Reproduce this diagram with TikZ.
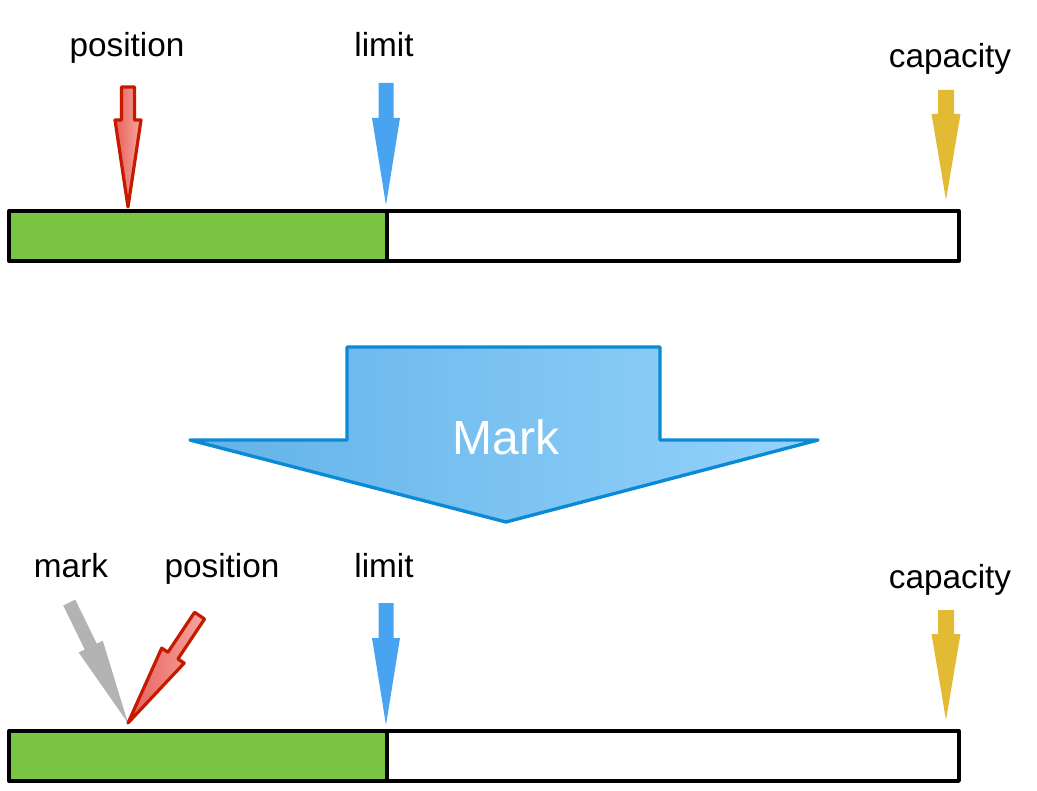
\documentclass[tikz,border=0pt]{standalone}
\usepackage{fontspec}
\setmainfont{Liberation Sans}
\definecolor{barGreen}{HTML}{7AC443}
\definecolor{ptrRedDark}{HTML}{C41A00}
\definecolor{ptrRedA}{HTML}{E8605A}
\definecolor{ptrRedB}{HTML}{F6A6A0}
\definecolor{ptrBlue}{HTML}{48A4F0}
\definecolor{ptrYellow}{HTML}{E3BA33}
\definecolor{ptrGray}{HTML}{B3B3B3}
\definecolor{markEdge}{HTML}{0A8AD6}
\definecolor{markA}{HTML}{62B2E8}
\definecolor{markB}{HTML}{95D3FB}
\newcommand\mkptr[4]{(0,0) -- (-#3,-#4) -- (-#2,-#4) -- (-#2,-#1) -- (#2,-#1) -- (#2,-#4) -- (#3,-#4) -- cycle}
\tikzset{
  lbl/.style={anchor=base, font=\fontsize{25}{29}\selectfont, text=black, inner sep=0pt},
  barframe/.style={draw=black, line width=2.5pt, line join=round},
  redptr/.style={draw=ptrRedDark, line width=2.4pt, line join=round, left color=ptrRedA, right color=ptrRedB},
  blueptr/.style={fill=ptrBlue, line join=round},
  yellowptr/.style={fill=ptrYellow, line join=round},
  grayptr/.style={fill=ptrGray, line join=round},
  bigarrow/.style={draw=markEdge, line width=2.5pt, line join=round, left color=markA, right color=markB},
}
\begin{document}
\begin{tikzpicture}[x=0.75pt,y=-0.75pt]
\useasboundingbox (0,0) rectangle (1037,791);

% ---------- top state ----------
\fill[barGreen] (9,211) rectangle (387,261);
\draw[barframe] (9,211) rectangle (959,261);
\draw[barframe] (387,211) -- (387,261);

\draw[redptr, shift={(128,207)}] \mkptr{120}{6.5}{13}{87};
\fill[blueptr, shift={(386,205)}] \mkptr{122}{7.5}{14}{87};
\fill[yellowptr, shift={(946,200)}] \mkptr{110}{8}{14.5}{86};

\node[lbl] (pos1) at (127,57) {position};
\node[lbl] (lim1) at (384,57) {limit};
\node[lbl] (cap1) at (950,68) {capacity};

% ---------- Mark arrow ----------
\draw[bigarrow] (347,347) -- (660,347) -- (660,440) -- (818,440) -- (506,522) -- (190,440) -- (347,440) -- cycle;
\node[font=\fontsize{36}{40}\selectfont, text=white, inner sep=0pt] (mark) at (506,437) {Mark};

% ---------- bottom state ----------
\fill[barGreen] (9,731) rectangle (387,781);
\draw[barframe] (9,731) rectangle (959,781);
\draw[barframe] (387,731) -- (387,781);

\fill[grayptr, shift={(128,723)}, rotate=26] \mkptr{134}{6.7}{13.4}{85};
\draw[redptr, shift={(128,723)}, rotate=-33.7] \mkptr{129}{6}{13.5}{81};
\fill[blueptr, shift={(386,725)}] \mkptr{122}{7.5}{14}{87};
\fill[yellowptr, shift={(946,720)}] \mkptr{110}{8}{14.5}{86};

\node[lbl] (mark2) at (71,577) {mark};
\node[lbl] (pos2) at (222,577) {position};
\node[lbl] (lim2) at (384,577) {limit};
\node[lbl] (cap2) at (950,588) {capacity};
\end{tikzpicture}
\end{document}
